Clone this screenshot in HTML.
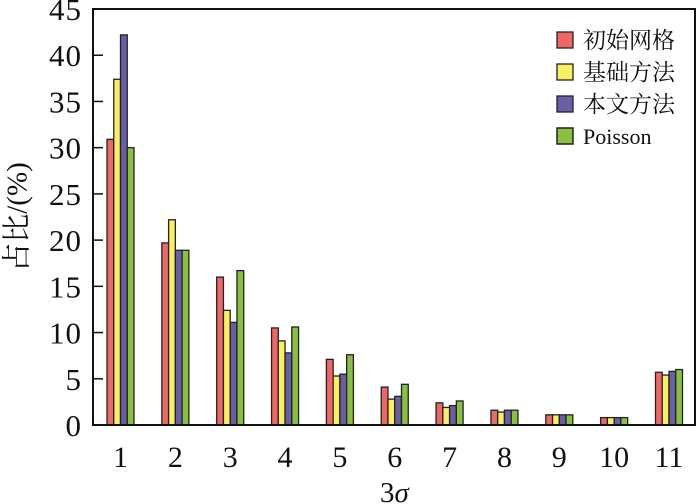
<!DOCTYPE html>
<html><head><meta charset="utf-8"><style>
body{margin:0;background:#fff}
svg{display:block}
text{font-family:"Liberation Serif","Noto Serif CJK SC",serif;fill:#111}
</style></head><body>
<svg width="700" height="504" viewBox="0 0 700 504" xmlns="http://www.w3.org/2000/svg">
<g id="bars" stroke="#222" stroke-width="1.3"></g>
<rect x="93" y="9" width="602" height="416" fill="none" stroke="#111" stroke-width="2"/>
<g id="ticks" stroke="#111" stroke-width="1.5"></g>
<g id="ylab" font-size="31" text-anchor="end" letter-spacing="1"></g>
<g id="xlab" font-size="30" text-anchor="middle"></g>
<text x="20" y="217" font-size="29" text-anchor="middle" transform="rotate(-90 20 217)" dominant-baseline="middle">占比/(%)</text>
<text x="380" y="502" font-size="29">3<tspan font-style="italic">σ</tspan></text>
<g font-size="23">
<rect x="557" y="32" width="16" height="16" fill="#ee6666" stroke="#222" stroke-width="1.3"/><text x="583" y="48">初始网格</text>
<rect x="557" y="64" width="16" height="16" fill="#f8f060" stroke="#222" stroke-width="1.3"/><text x="583" y="80">基础方法</text>
<rect x="557" y="96" width="16" height="16" fill="#6a5ea8" stroke="#222" stroke-width="1.3"/><text x="583" y="112">本文方法</text>
<rect x="557" y="128" width="16" height="16" fill="#88c040" stroke="#222" stroke-width="1.5"/><text x="583" y="144" font-size="22">Poisson</text>
</g>
</svg>
<script>
var d=[[30.9,37.4,42.2,30.0],[19.7,22.2,18.9,18.9],[16.0,12.4,11.1,16.7],[10.5,9.1,7.8,10.6],[7.1,5.3,5.5,7.6],[4.1,2.8,3.1,4.4],[2.4,1.9,2.1,2.6],[1.6,1.4,1.6,1.6],[1.1,1.1,1.1,1.1],[0.8,0.8,0.8,0.8],[5.7,5.4,5.8,6.0]];
var c=["#ee6666","#f8f060","#6a5ea8","#88c040"];
var k=416/45,s="";
d.forEach(function(g,i){var cx=120.5+i*54.85,w=6.75;g.forEach(function(v,j){var h=v*k;s+='<rect x="'+(cx-13.5+j*w)+'" y="'+(425-h)+'" width="'+w+'" height="'+h+'" fill="'+c[j]+'"/>';});});
document.getElementById('bars').innerHTML=s;
var t="",yl="",xl="";
for(var v=5;v<45;v+=5){var y=425-v*k;t+='<line x1="93" x2="103" y1="'+y+'" y2="'+y+'"/>';}
for(var v=0;v<=45;v+=5){var y=425-v*k;yl+='<text x="82" y="'+(y+11)+'">'+v+'</text>';}
for(var i=0;i<11;i++){xl+='<text x="'+(120.5+i*54.85)+'" y="467">'+(i+1)+'</text>';}
document.getElementById('ticks').innerHTML=t;
document.getElementById('ylab').innerHTML=yl;
document.getElementById('xlab').innerHTML=xl;
</script>
</body></html>
